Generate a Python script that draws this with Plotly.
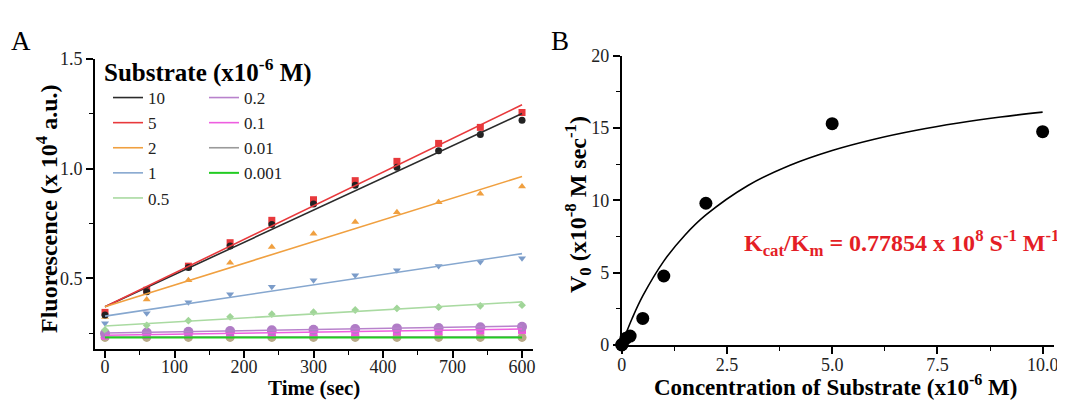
import plotly.graph_objects as go

# ---------------- Panel A data ----------------
time_sec = [0, 60, 120, 180, 240, 300, 360, 420, 480, 540, 600]
conc_labels = ["10", "5", "2", "1", "0.5", "0.2", "0.1", "0.01", "0.001"]

fl_10 = [0.332, 0.438, 0.549, 0.647, 0.745, 0.839, 0.924, 1.006, 1.082, 1.155, 1.221]
fl_5 = [0.344, 0.445, 0.555, 0.662, 0.764, 0.858, 0.945, 1.033, 1.115, 1.188, 1.256]
fl_2 = [0.323, 0.403, 0.491, 0.571, 0.642, 0.703, 0.756, 0.801, 0.847, 0.885, 0.918]
fl_1 = [0.294, 0.340, 0.390, 0.427, 0.461, 0.491, 0.514, 0.536, 0.556, 0.574, 0.591]
fl_05 = [0.264, 0.285, 0.306, 0.324, 0.336, 0.345, 0.355, 0.362, 0.368, 0.374, 0.377]
fl_02 = [0.248, 0.252, 0.256, 0.259, 0.262, 0.265, 0.268, 0.271, 0.273, 0.276, 0.278]
fl_01 = [0.238, 0.241, 0.244, 0.247, 0.249, 0.252, 0.254, 0.257, 0.259, 0.262, 0.264]
fl_001 = [0.230, 0.230, 0.230, 0.230, 0.230, 0.230, 0.230, 0.230, 0.230, 0.230, 0.230]
fl_0001 = [0.228, 0.228, 0.228, 0.228, 0.228, 0.228, 0.228, 0.228, 0.228, 0.228, 0.228]

# linear-fit lines (value at t=0 and t=600)
fit_t = [0, 600]
fit_start = [0.370, 0.370, 0.370, 0.327, 0.282, 0.250, 0.240, 0.231, 0.229]
fit_end = [1.251, 1.291, 0.964, 0.612, 0.392, 0.282, 0.268, 0.231, 0.229]

x_tickvals_a = [0, 100, 200, 300, 400, 500, 600]
x_ticktext_a = ["0", "100", "200", "300", "400", "700", "600"]

# ---------------- Panel B data ----------------
substrate_conc = [0, 0.01, 0.1, 0.2, 0.5, 1, 2, 5, 10]
v0 = [0.0, 0.05, 0.46, 0.62, 1.84, 4.77, 9.8, 15.3, 14.75]

curve_x = [0, 0.1, 0.25, 0.5, 1, 1.5, 2, 3, 4, 5, 6, 7, 8, 9, 10]
curve_y = [0, 0.78, 1.85, 3.39, 5.80, 7.59, 8.99, 11.03, 12.43, 13.45, 14.23, 14.85, 15.35, 15.76, 16.1]

x_tickvals_b = [0, 2.5, 5, 7.5, 10]
x_ticktext_b = ["0", "2.5", "5.0", "7.5", "10.0"]

# ---------------- styles ----------------
series_y = [fl_10, fl_5, fl_2, fl_1, fl_05, fl_02, fl_01, fl_001, fl_0001]
line_colors = ["#2b2b2b", "#e8393c", "#f0a040", "#86a7cf", "#a9daa1",
               "#b882cc", "#ee5ee0", "#9a9a9a", "#22cc22"]
marker_colors = ["#222222", "#e8393c", "#f0a040", "#7b9cc9", "#a0d598",
                 "#b07cc6", "#ee55dd", "#b8aa88", "#b8aa88"]
marker_symbols = ["circle", "square", "triangle-up", "triangle-down", "diamond",
                  "circle", "square", "circle", "circle"]
marker_sizes = [7, 7, 7, 7, 6, 10, 8, 9, 7]
legend_ids = ["legend", "legend", "legend", "legend", "legend",
              "legend2", "legend2", "legend2", "legend2"]

SERIF = "Liberation Serif, Times New Roman, serif"
OFF = 8                      # browser body margin
W, H = 1065 - OFF, 400 - OFF

fig = go.Figure()

order = list(range(len(conc_labels)))[::-1]
for i in order:
    fig.add_trace(go.Scatter(
        x=time_sec, y=series_y[i], mode="markers",
        marker=dict(symbol=marker_symbols[i], size=marker_sizes[i], color=marker_colors[i],
                    line=dict(width=0)),
        showlegend=False, xaxis="x", yaxis="y", cliponaxis=False, hoverinfo="skip"))
for i in range(len(conc_labels)):
    fig.add_trace(go.Scatter(
        x=fit_t, y=[fit_start[i], fit_end[i]], mode="lines",
        line=dict(color=line_colors[i], width=2 if i == 8 else 1.6),
        name=conc_labels[i], legend=legend_ids[i], xaxis="x", yaxis="y"))

fig.add_trace(go.Scatter(
    x=curve_x, y=curve_y, mode="lines", line=dict(color="black", width=1.6, shape="spline"),
    showlegend=False, xaxis="x2", yaxis="y2"))
fig.add_trace(go.Scatter(
    x=substrate_conc, y=v0, mode="markers", marker=dict(color="black", size=13),
    showlegend=False, xaxis="x2", yaxis="y2", cliponaxis=False))


def px_x(p):
    return (p - OFF) / W


def px_y(p):
    return 1 - (p - OFF) / H


axis_common = dict(showline=True, linecolor="black", linewidth=1.8, ticks="outside",
                   ticklen=7, tickwidth=1.6, tickcolor="black", showgrid=False, zeroline=False,
                   tickfont=dict(family=SERIF, size=18, color="#222222"), automargin=False)
minor_style = dict(ticklen=4, tickwidth=1.4, tickcolor="black", ticks="outside")


def ann(text, x, y, size=24, color="black", angle=0, xanchor="center"):
    return dict(text=text, x=px_x(x), y=px_y(y), xref="paper", yref="paper", showarrow=False,
                xanchor=xanchor, yanchor="middle", textangle=angle,
                font=dict(family=SERIF, size=size, color=color))


fig.update_layout(
    width=W, height=H,
    margin=dict(l=0, r=0, t=0, b=0),
    paper_bgcolor="white", plot_bgcolor="white",
    font=dict(family=SERIF, color="black"),
    xaxis=dict(domain=[px_x(95), px_x(533)], range=[-14.4, 615.8], anchor="y",
               tickmode="array", tickvals=x_tickvals_a, ticktext=x_ticktext_a,
               ticklabelstandoff=-7,
               minor=dict(dtick=50, tick0=0, **minor_style), **axis_common),
    yaxis=dict(domain=[px_y(349), px_y(59)], range=[0.177, 1.5], anchor="x",
               tickmode="array", tickvals=[0.5, 1.0, 1.5], ticktext=["0.5", "1.0", "1.5"],
               minor=dict(dtick=0.25, tick0=0, **minor_style), **axis_common),
    xaxis2=dict(domain=[px_x(621.7), px_x(1054)], range=[0, 10.27], anchor="y2",
                tickmode="array", tickvals=x_tickvals_b, ticktext=x_ticktext_b,
                ticklabelstandoff=-5,
                minor=dict(dtick=1.25, tick0=0, **minor_style), **axis_common),
    yaxis2=dict(domain=[px_y(345), px_y(55.7)], range=[0, 20], anchor="x2",
                tickmode="array", tickvals=[0, 5, 10, 15, 20],
                minor=dict(dtick=2.5, tick0=0, **minor_style), **axis_common),
    legend=dict(x=px_x(108), y=px_y(80), xanchor="left", yanchor="top",
                bgcolor="rgba(0,0,0,0)", borderwidth=0, tracegroupgap=0,
                font=dict(family=SERIF, size=17, color="#222222"), itemwidth=30),
    legend2=dict(x=px_x(204), y=px_y(80), xanchor="left", yanchor="top",
                 bgcolor="rgba(0,0,0,0)", borderwidth=0, tracegroupgap=0,
                 font=dict(family=SERIF, size=17, color="#222222"), itemwidth=30),
    annotations=[
        ann("A", 21, 41, size=27),
        ann("B", 560, 41, size=27),
        ann("<b>Substrate (x10<sup>-6</sup> M)</b>", 102, 70, size=25, xanchor="left"),
        ann("<b>Fluorescence (x 10<sup>4</sup> a.u.)</b>", 47, 209, angle=-90),
        ann("<b>Time (sec)</b>", 314, 387.5, size=21),
        ann("<b>V<sub>0</sub> (x10<sup>-8</sup> M sec<sup>-1</sup>)</b>", 578, 205, angle=-90),
        ann("<b>Concentration of Substrate (x10<sup>-6</sup> M)</b>", 835, 385, size=23),
        ann("<b>K<sub>cat</sub>/K<sub>m</sub> = 0.77854 x 10<sup>8</sup> S<sup>-1</sup> M<sup>-1</sup></b>",
            902, 243, color="#e41e26"),
    ],
)

fig.write_html("out.html")
